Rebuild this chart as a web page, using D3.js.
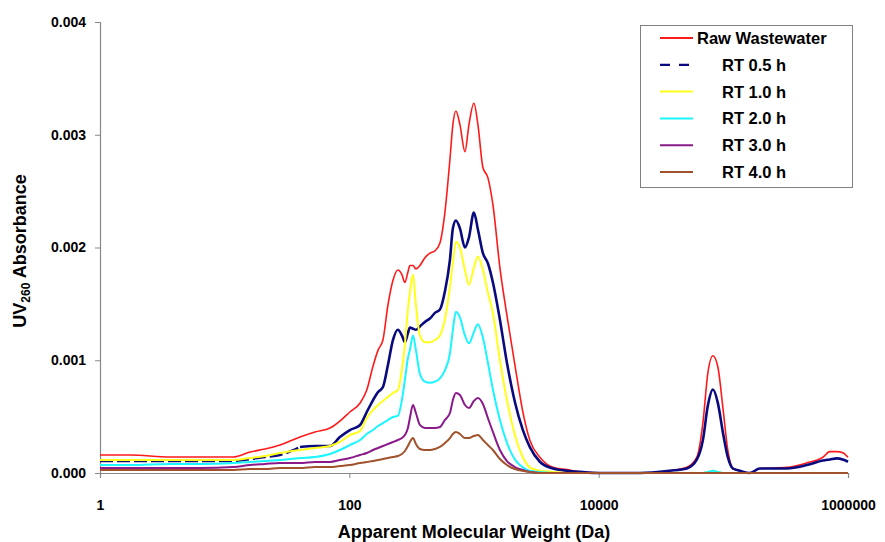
<!DOCTYPE html>
<html>
<head>
<meta charset="utf-8">
<script src="https://cdn.jsdelivr.net/npm/d3@7"></script>
<style>
  body { margin: 0; background: #fff; }
  svg { font-family: "Liberation Sans", Arial, sans-serif; }
</style>
</head>
<body>
<script>
// apparent molecular weight grid (Da)
const mw = [1, 1.74, 3.64, 6.34, 11.7, 16, 21, 27.8, 40.2, 53, 70, 84, 101, 122, 138, 155, 170, 186, 204, 224,
  245, 264, 279, 295, 306, 324, 342, 368, 404, 443, 486, 533, 584, 641, 677, 716, 771, 846, 911, 998,
  1075, 1179, 1292, 1418, 1614, 1836, 2128, 2467, 2806, 3376, 4295, 5561, 7065, 10230, 21400, 37200, 50950, 61350, 68500, 75200,
  82500, 90400, 99200, 108700, 119200, 135600, 163000, 196300, 323000, 467400, 628600, 715000, 813000, 908000, 1000000];

const rawWastewater = [0.00016, 0.00016, 0.000142, 0.000142, 0.000142, 0.000186, 0.000213, 0.000248, 0.000319, 0.000364,
  0.000399, 0.000461, 0.000541, 0.000621, 0.000736, 0.000949, 0.00109, 0.00118, 0.00149, 0.00171,
  0.0018, 0.00176, 0.00169, 0.00178, 0.00184, 0.00184, 0.00181, 0.00184, 0.00191, 0.00195,
  0.00197, 0.00204, 0.00231, 0.00278, 0.00309, 0.00321, 0.00309, 0.00285, 0.00309, 0.00328,
  0.00309, 0.00271, 0.00262, 0.00238, 0.00182, 0.0014, 0.00096, 0.00054, 0.00029, 0.00014,
  0.00005, 0.00003, 0.00001, 0, 0, 0.00002, 0.00005, 0.00014, 0.00044, 0.00089,
  0.00104, 0.00094, 0.00058, 0.0002, 0.00004, 0.00002, 0, 0.00004, 0.00005, 0.00009,
  0.00014, 0.00019, 0.00019, 0.00018, 0.00014];

const rt05 = [0.000106, 0.000106, 0.000106, 0.000106, 0.000106, 0.000124, 0.000142, 0.00016, 0.000231, 0.000239,
  0.000239, 0.000319, 0.000381, 0.000426, 0.000541, 0.000647, 0.000718, 0.000763, 0.000958, 0.00118,
  0.00127, 0.00122, 0.00116, 0.00124, 0.00129, 0.00128, 0.00127, 0.0013, 0.00134, 0.00137,
  0.00142, 0.00145, 0.00161, 0.00189, 0.00217, 0.00224, 0.00217, 0.002, 0.00209, 0.00231,
  0.00216, 0.00195, 0.00186, 0.00169, 0.00136, 0.00098, 0.00063, 0.00038, 0.00023, 0.0001,
  0.00004, 0.00002, 0.00001, 0, 0, 0.00002, 0.00004, 0.00012, 0.00029, 0.0006,
  0.00074, 0.00062, 0.00036, 0.00014, 0.00004, 0.00002, 0, 0.00004, 0.00004, 0.00007,
  0.00011, 0.00012, 0.00013, 0.00012, 0.0001];

const rt10 = [0.000115, 0.000115, 0.000115, 0.000115, 0.000115, 0.000133, 0.000151, 0.000177, 0.000204, 0.000222,
  0.000239, 0.000275, 0.000337, 0.000373, 0.000488, 0.000559, 0.000603, 0.000639, 0.000674, 0.00071,
  0.000736, 0.000914, 0.00114, 0.00145, 0.0016, 0.00176, 0.00149, 0.00122, 0.00116, 0.00116,
  0.00118, 0.00122, 0.00136, 0.00165, 0.00187, 0.00205, 0.002, 0.0018, 0.00167, 0.00182,
  0.00192, 0.0018, 0.0016, 0.00142, 0.001, 0.00065, 0.00034, 0.00014, 0.00005, 0.00002,
  0.00001, 0, 0, 0, 0, 0, 0, 0, 0, 0.00001,
  0.00002, 0.00001, 0, 0, 0, 0, 0, 0, 0, 0,
  0, 0, 0, 0, 0];

const rt20 = [0.000071, 0.000071, 0.00008, 0.00008, 0.000089, 0.000098, 0.000106, 0.000115, 0.000133, 0.000142,
  0.000169, 0.000204, 0.000248, 0.000293, 0.000346, 0.000381, 0.000417, 0.000443, 0.00047, 0.000497,
  0.000506, 0.000647, 0.000825, 0.00102, 0.00109, 0.00122, 0.00109, 0.00088, 0.00081, 0.0008,
  0.00081, 0.00084, 0.00091, 0.00106, 0.00127, 0.00143, 0.00138, 0.00122, 0.00115, 0.00125,
  0.00132, 0.0012, 0.00098, 0.00074, 0.00047, 0.00027, 0.00012, 0.00005, 0.00002, 0.00001,
  0, 0, 0, 0, 0, 0, 0, 0, 0, 0.00001,
  0.00002, 0.00001, 0, 0, 0, 0, 0, 0, 0, 0,
  0, 0, 0, 0, 0];

const rt30 = [0.000044, 0.000044, 0.000044, 0.000044, 0.000053, 0.000071, 0.00008, 0.000089, 0.000089, 0.000098,
  0.000098, 0.000115, 0.000133, 0.00016, 0.000177, 0.000204, 0.000222, 0.000239, 0.000257, 0.000275,
  0.000293, 0.00031, 0.000337, 0.000399, 0.000488, 0.000603, 0.000532, 0.000426, 0.000399, 0.000399,
  0.000399, 0.000408, 0.00047, 0.000532, 0.000647, 0.00071, 0.000692, 0.000603, 0.000576, 0.000639,
  0.000665, 0.000612, 0.000488, 0.000364, 0.000204, 0.000106, 0.000053, 0.000027, 0.00001, 0,
  0, 0, 0, 0, 0, 0, 0, 0, 0, 0,
  0, 0, 0, 0, 0, 0, 0, 0, 0, 0,
  0, 0, 0, 0, 0];

const rt40 = [0.000027, 0.000027, 0.000027, 0.000027, 0.000027, 0.000035, 0.000035, 0.000044, 0.000044, 0.000053,
  0.000053, 0.000062, 0.000071, 0.000089, 0.000098, 0.000106, 0.000115, 0.000124, 0.000133, 0.000142,
  0.000151, 0.000169, 0.000195, 0.000239, 0.000275, 0.00031, 0.000257, 0.000213, 0.000204, 0.000204,
  0.000213, 0.000231, 0.000266, 0.00031, 0.000346, 0.000364, 0.000346, 0.00031, 0.00031, 0.000328,
  0.000337, 0.000293, 0.000248, 0.000204, 0.000124, 0.000071, 0.000035, 0.000018, 0.00001, 0,
  0, 0, 0, 0, 0, 0, 0, 0, 0, 0,
  0, 0, 0, 0, 0, 0, 0, 0, 0, 0,
  0, 0, 0, 0, 0];

const seriesNames = ["Raw Wastewater", "RT 0.5 h", "RT 1.0 h", "RT 2.0 h", "RT 3.0 h", "RT 4.0 h"];
const seriesValues = [rawWastewater, rt05, rt10, rt20, rt30, rt40];
const seriesColors = ["#ff1a1a", "#0a0a80", "#ffff1a", "#1af5ff", "#8a1a8a", "#a0522d"];
const xTicks = [1, 100, 10000, 1000000];
const yTicks = [0, 0.001, 0.002, 0.003, 0.004];

const width = 885, height = 542;
const margin = { left: 100, right: 37, top: 22, bottom: 69 };

const svg = d3.select("body").append("svg")
  .attr("width", width)
  .attr("height", height);

const x = d3.scaleLog()
  .domain([1, 1000000])
  .range([margin.left, width - margin.right]);

const y = d3.scaleLinear()
  .domain([0, 0.004])
  .range([height - margin.bottom, margin.top]);

// axes
const xAxis = svg.append("g")
  .attr("transform", "translate(0," + (height - margin.bottom) + ")")
  .call(d3.axisBottom(x).tickValues(xTicks).tickFormat(d3.format("d")).tickSize(5).tickPadding(22));

const yAxis = svg.append("g")
  .attr("transform", "translate(" + margin.left + ",0)")
  .call(d3.axisLeft(y).tickValues(yTicks).tickFormat(d3.format(".3f")).tickSize(5).tickPadding(9));

[xAxis, yAxis].forEach(g => {
  g.select(".domain").attr("stroke", "#888").attr("stroke-width", 1.2);
  g.selectAll(".tick line").attr("stroke", "#888");
  g.selectAll(".tick text")
    .attr("fill", "#000")
    .style("font-size", "14px")
    .style("font-weight", "bold");
});

// lines
const line = d3.line()
  .x(d => x(d[0]))
  .y(d => y(d[1]))
  .curve(d3.curveMonotoneX);

const series = seriesNames.map((name, i) => ({
  name: name,
  color: seriesColors[i],
  points: mw.map((m, j) => [m, seriesValues[i][j]])
}));

// the RT 0.5 h trace shows its dashes only on the flat low-MW baseline,
// the noisy part reads as a solid line
const pieces = [];
series.forEach((s, i) => {
  if (i === 1) {
    pieces.push({ s: s, i: i, pts: s.points.filter(p => p[0] <= 40.2), dash: "13,4" });
    pieces.push({ s: s, i: i, pts: s.points.filter(p => p[0] >= 40.2), dash: null });
  } else {
    pieces.push({ s: s, i: i, pts: s.points, dash: null });
  }
});

svg.append("g").selectAll("path")
  .data(pieces)
  .enter().append("path")
  .attr("d", d => line(d.pts))
  .attr("fill", "none")
  .attr("stroke", d => d.s.color)
  .attr("stroke-width", d => d.i === 1 ? 2.6 : (d.i === 0 ? 1.6 : 2))
  .attr("stroke-dasharray", d => d.dash)
  .attr("stroke-linejoin", "round");

// axis titles
svg.append("text")
  .attr("x", (margin.left + width - margin.right) / 2)
  .attr("y", 538)
  .attr("text-anchor", "middle")
  .style("font-size", "18px")
  .style("font-weight", "bold")
  .text("Apparent Molecular Weight (Da)");

const yTitle = svg.append("text")
  .attr("transform", "translate(26,251) rotate(-90)")
  .attr("text-anchor", "middle")
  .style("font-size", "18px")
  .style("font-weight", "bold");
yTitle.append("tspan").text("UV");
yTitle.append("tspan").attr("dy", 4).style("font-size", "12px").text("260");
yTitle.append("tspan").attr("dy", -4).text(" Absorbance");

// legend
const legend = svg.append("g");
legend.append("rect")
  .attr("x", 640.5).attr("y", 25.5)
  .attr("width", 212).attr("height", 162)
  .attr("fill", "#fff")
  .attr("stroke", "#808080");

const rows = legend.selectAll("g.row")
  .data(series)
  .enter().append("g")
  .attr("class", "row")
  .attr("transform", (d, i) => "translate(0," + (38 + i * 26.8) + ")");

rows.append("line")
  .attr("x1", 660).attr("x2", 693)
  .attr("y1", 0).attr("y2", 0)
  .attr("stroke", d => d.color)
  .attr("stroke-width", (d, i) => i === 1 ? 2.2 : 2)
  .attr("stroke-dasharray", (d, i) => i === 1 ? "10,9" : null);

rows.append("text")
  .attr("x", (d, i) => i === 0 ? 697 : 722)
  .attr("y", 6)
  .style("font-size", "16.5px")
  .style("font-weight", "bold")
  .text(d => d.name);
</script>
</body>
</html>
